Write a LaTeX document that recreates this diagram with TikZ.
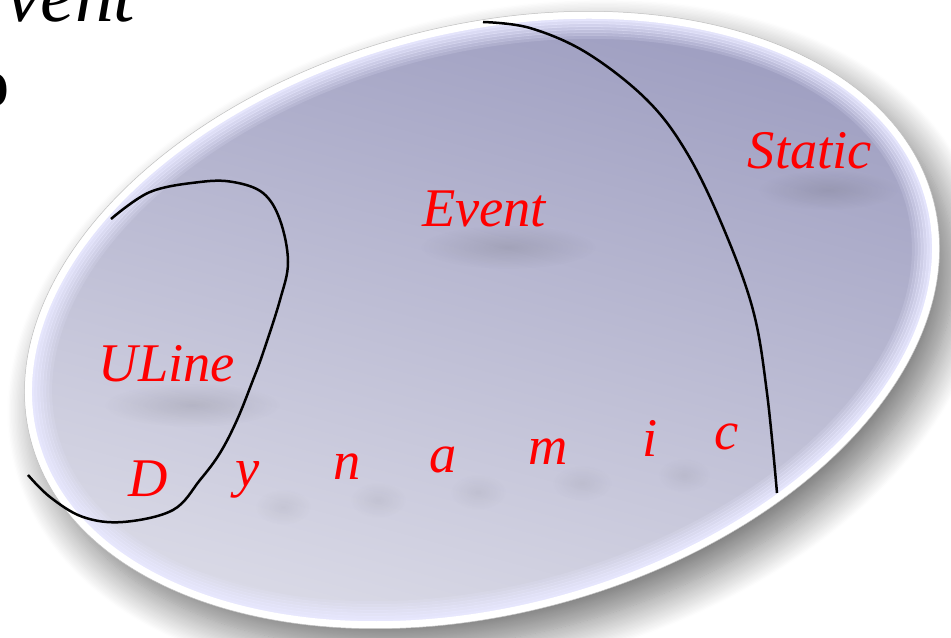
\documentclass[tikz,border=0pt]{standalone}
\usepackage{fontspec}
\setmainfont{Liberation Serif}
\usepackage{xcolor}
\usepackage{tikz}
\usetikzlibrary{shadows.blur, fadings}

\definecolor{disctop}{RGB}{160,160,194}
\definecolor{discbot}{RGB}{222,222,233}
\definecolor{rimblue}{RGB}{232,232,255}
\tikzfading[name=softspot, inner color=transparent!30, outer color=transparent!100]

\begin{document}
\begin{tikzpicture}[
  x=0.02cm, y=-0.02cm,
  word/.style={text=red, inner sep=0pt, anchor=base, font=\fontsize{31}{31}\selectfont\itshape},
  big/.style={text=black, inner sep=0pt, anchor=base, font=\fontsize{44}{44}\selectfont\itshape},
  border/.style={black, line width=0.05cm, line join=round},
  blob/.style={fill=black!80, opacity=0.2, path fading=softspot},
]
  \useasboundingbox (0,0) rectangle (951,638);
  \clip (0,0) rectangle (951,638);

  % the disc
  \begin{scope}[shift={(482,320)}, rotate=15]
    \fill[white, blur shadow={shadow xshift=0.3cm, shadow yshift=-0.4cm,
          shadow blur radius=0.65cm, shadow blur steps=25, shadow opacity=55}]
      (0,0) ellipse [x radius=467, y radius=294];
    \shade[top color=disctop, bottom color=discbot, shading angle=-15]
      (0,0) ellipse [x radius=460, y radius=287];
    \foreach \k in {0,...,6}
      \draw[rimblue, line width=0.07cm, opacity=0.95-0.13*\k]
        (0,0) ellipse [x radius=459-3*\k, y radius=286-3*\k];
    \draw[white, line width=0.14cm] (0,0) ellipse [x radius=463, y radius=290];
    \draw[black!25, line width=0.01cm] (0,0) ellipse [x radius=467, y radius=294];
  \end{scope}

  % soft shadows under the words
  \fill[blob] (508,247) ellipse [x radius=88, y radius=22];
  \fill[blob] (828,190) ellipse [x radius=70, y radius=20];
  \fill[blob] (192,405) ellipse [x radius=88, y radius=22];
  \fill[blob, opacity=0.1] (283,507) ellipse [x radius=28, y radius=18];
  \fill[blob, opacity=0.1] (378,500) ellipse [x radius=28, y radius=18];
  \fill[blob, opacity=0.1] (478,492) ellipse [x radius=28, y radius=18];
  \fill[blob, opacity=0.1] (582,483) ellipse [x radius=30, y radius=18];
  \fill[blob, opacity=0.1] (684,475) ellipse [x radius=26, y radius=17];

  % boundaries
  \draw[border] plot[smooth, tension=0.6] coordinates {(111,219) (150,192) (200,182) (233,182)
    (263,193) (280,220) (288,262) (280,300) (263,353) (253,380) (237,420) (220,453)
    (200,480) (173,510) (123,522) (83,517) (50,497) (28,475)};
  \draw[border] plot[smooth, tension=0.6] coordinates {(483,22) (530,28) (587,53) (647,100)
    (687,153) (723,227) (753,310) (767,393) (777,493)};

  % labels
  \node[word] (event) at (484,227) {Event};
  \node[word] (static) at (810,169) {Static};
  \node[word] (uline) at (167,382) {ULine};
  \node[word] (dynD) at (148,497) {D};
  \node[word] (dyny) at (248,487) {y};
  \node[word] (dynn) at (347,480) {n};
  \node[word] (dyna) at (443,473) {a};
  \node[word] (dynm) at (548,465) {m};
  \node[word] (dyni) at (650,457) {i};
  \node[word] (dync) at (727,450) {c};

  % cut-off title
  \node[big] (title) at (71,22) {vent};
  \node[big, anchor=base east, font=\fontsize{40}{40}\selectfont\bfseries] (title2) at (10,107) {o};
\end{tikzpicture}
\end{document}
